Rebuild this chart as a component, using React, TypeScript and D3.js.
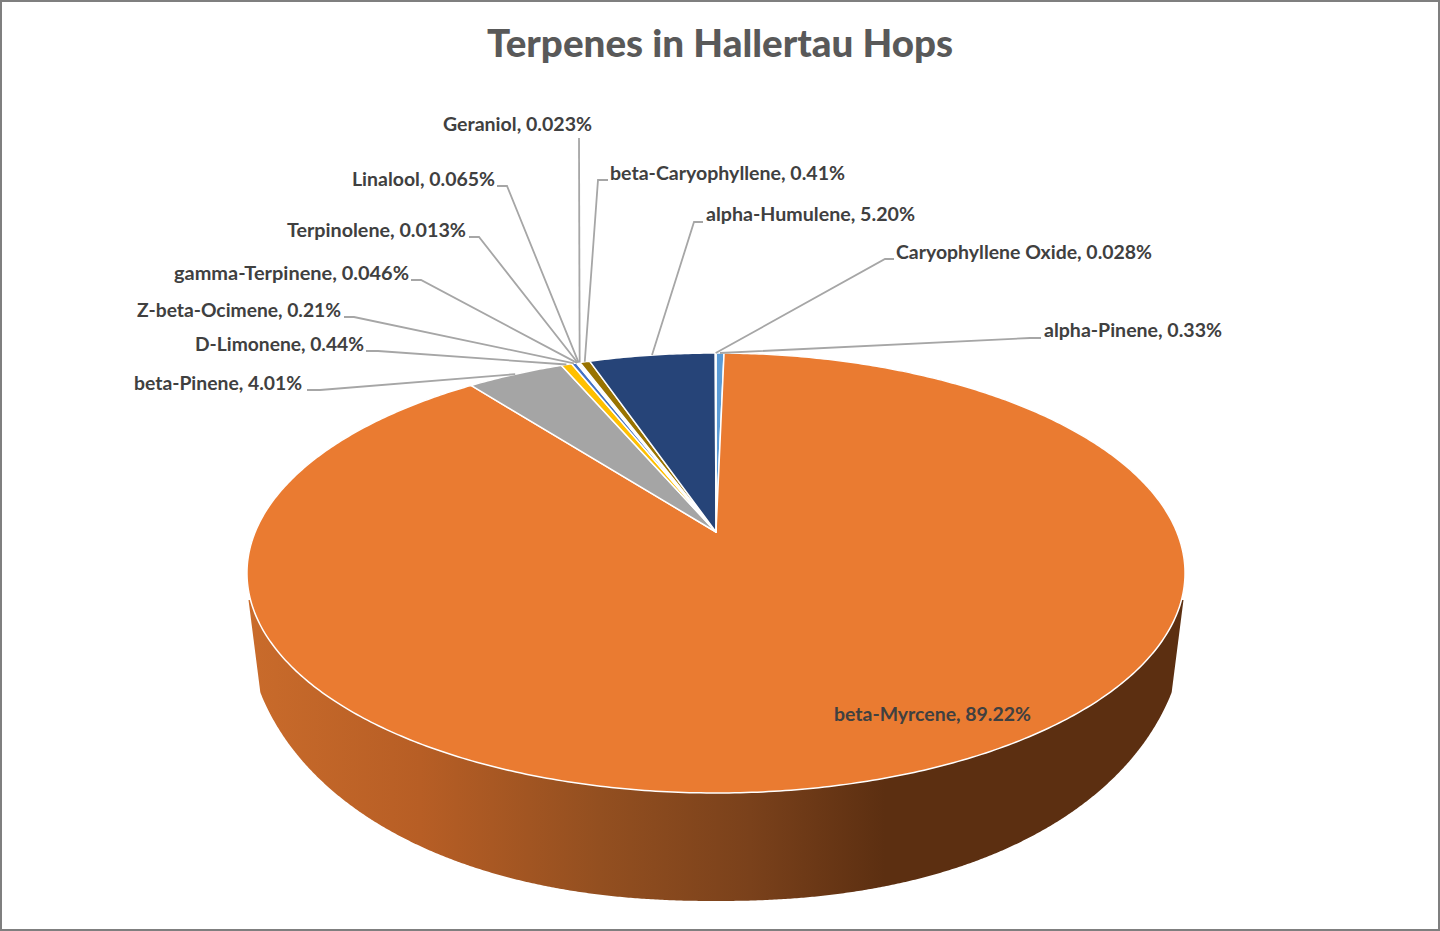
import React from "react";
import * as d3 from "d3";

const names = ["alpha-Pinene","beta-Myrcene","beta-Pinene","D-Limonene","Z-beta-Ocimene","gamma-Terpinene","Terpinolene","Linalool","Geraniol","beta-Caryophyllene","alpha-Humulene","Caryophyllene Oxide"];
const values = [0.33,89.22,4.01,0.44,0.21,0.046,0.013,0.065,0.023,0.41,5.2,0.028];
const valueLabels = ["0.33%","89.22%","4.01%","0.44%","0.21%","0.046%","0.013%","0.065%","0.023%","0.41%","5.20%","0.028%"];
const colors = ["#5B9BD5","#EA7B31","#A5A5A5","#FFC000","#4472C4","#70AD47","#255E91","#9E480E","#636363","#997300","#264478","#43682B"];

// Label layout: text left, text right, baseline, elbow x, elbow y, elbow end x
const labelLayout: (number[] | null)[] = [
  [1044,1222,337,1041,338,1030],
  [834,1031,721,0,0,0],
  [134,302,390,307,390,320],
  [195,364,351,366,351,378],
  [137,341,317,344,317,354],
  [174,409,280,411,280,421],
  [287,466,237,469,237,479],
  [352,495,186,497,186,507],
  [443,592,131,579,138,579],
  [610,845,180,608,180,598],
  [706,915,221,703,222,694],
  [896,1152,259,894,259,885],
];

const W = 1440, H = 931;
const cx = 716;
// Perspective projection of the unit disc on to the page
const pr = 460.8, pa = 113.2, pb = 532, pc = -0.18636;
const project = (angle: number, r = 1): [number, number] => {
  const u = r * Math.sin(angle), v = -r * Math.cos(angle);
  const w = 1 + pc * v;
  return [cx + (pr * u) / w, (pa * v + pb) / w];
};

const line = d3.line();
const arcs = d3.pie<number>().sort(null).startAngle(0).endAngle(2 * Math.PI)(values);

const slicePath = (a0: number, a1: number) => {
  const n = Math.max(2, Math.ceil((a1 - a0) / 0.01));
  const pts: [number, number][] = [project(0, 0)];
  d3.range(n + 1).forEach((i) => pts.push(project(a0 + ((a1 - a0) * i) / n)));
  return line(pts) + "Z";
};

// Side wall silhouette: a rounded lower rim, tapering in from the disc's widest point
const wallA = 472, wallR = 301, wallC = 600, wallP = 2.2;
const taperTop = 596, taperWidth = 468, taperSlope = 0.128;
const wallPath = () => {
  const pts: [number, number][] = d3.range(0, 721).map((i) => {
    const t = (i / 720) * Math.PI;
    const c = Math.cos(t), s = Math.sin(t);
    const y = wallC + wallR * Math.pow(s, 2 / wallP);
    const off = wallA * Math.pow(Math.abs(c), 2 / wallP);
    const limit = taperWidth - Math.max(0, y - taperTop) * taperSlope;
    return [cx + Math.sign(c) * Math.min(off, limit), y];
  });
  const top = d3.range(0, 361).map((i) => project((i / 360) * 2 * Math.PI));
  return line(pts) + "Z" + (line(top) as string) + "Z";
};

const wallStops = [
  [248, "#c96b2b"],
  [420, "#b75e25"],
  [600, "#934f20"],
  [750, "#7a411b"],
  [885, "#5c2f11"],
  [1185, "#5c2f11"],
] as [number, string][];

const FONT = "Lato, Carlito, 'Open Sans', sans-serif";

export default function App() {
  return (
    <svg width={W} height={H} viewBox={`0 0 ${W} ${H}`} style={{ position: "fixed", left: 0, top: 0, background: "#fff" }}>
      <defs>
        <linearGradient id="wall" gradientUnits="userSpaceOnUse" x1={248} x2={1185} y1={0} y2={0}>
          {wallStops.map(([x, c]) => (
            <stop key={x} offset={(x - 248) / (1185 - 248)} stopColor={c} />
          ))}
        </linearGradient>
      </defs>
      <rect x={1} y={1} width={W - 2} height={H - 2} fill="#fff" stroke="#7f7f7f" strokeWidth={2} />
      <text x={487} y={57} fontFamily={FONT} fontWeight={900} fontSize={38} fill="#595959" textLength={466} lengthAdjust="spacingAndGlyphs">
        Terpenes in Hallertau Hops
      </text>
      <path d={wallPath()} fill="url(#wall)" />
      <g>
        {arcs.map((a, i) => (
          <path key={names[i]} d={slicePath(a.startAngle, a.endAngle)} fill={colors[i]} stroke="#fff" strokeWidth={1.5} strokeLinejoin="round" />
        ))}
      </g>
      <g fill="none" stroke="#a6a6a6" strokeWidth={1.8}>
        {arcs.map((a, i) => {
          const l = labelLayout[i];
          if (!l || i === 1) return null;
          const p = project((a.startAngle + a.endAngle) / 2);
          const pts: [number, number][] = [[l[3], l[4]], [l[5], l[4]], p];
          return <path key={names[i]} d={line(pts) as string} />;
        })}
      </g>
      <g fontFamily={FONT} fontWeight={700} fontSize={18} fill="#404040">
        {names.map((n, i) => {
          const l = labelLayout[i] as number[];
          return (
            <text key={n} x={l[0]} y={l[2]} textLength={l[1] - l[0]} lengthAdjust="spacingAndGlyphs">
              {`${n}, ${valueLabels[i]}`}
            </text>
          );
        })}
      </g>
    </svg>
  );
}
